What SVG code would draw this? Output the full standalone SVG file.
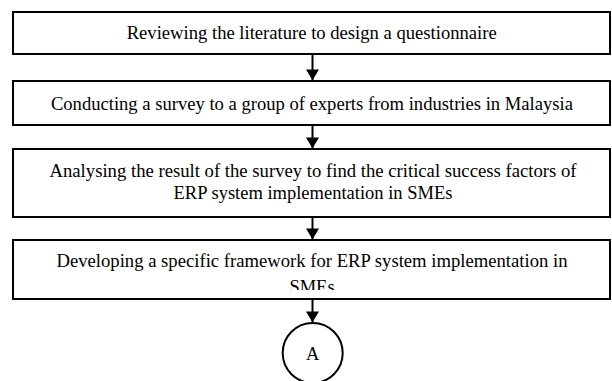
<svg xmlns="http://www.w3.org/2000/svg" width="612" height="381" viewBox="0 0 612 381">
<style>
.box{fill:#fff;stroke:#000;stroke-width:2}
.t{font-family:"Liberation Serif","Times New Roman",serif;font-size:18.5px;fill:#000;text-anchor:middle}
.c{stroke:#000;stroke-width:2;fill:none}
</style>
<defs>
<marker id="ah" markerWidth="5.5" markerHeight="6.6" refX="5.3" refY="3.3" orient="auto" markerUnits="strokeWidth">
<path d="M0,0 L5.5,3.3 L0,6.6 Z" fill="#000"/>
</marker>
<clipPath id="clip4"><rect x="13" y="240" width="597" height="50"/></clipPath>
</defs>
<rect width="612" height="381" fill="#fff"/>
<g id="connectors">
<line class="c" x1="312.5" y1="54" x2="312.5" y2="80" marker-end="url(#ah)"/>
<line class="c" x1="312.5" y1="125" x2="312.5" y2="148" marker-end="url(#ah)"/>
<line class="c" x1="312.5" y1="217" x2="312.5" y2="239" marker-end="url(#ah)"/>
<line class="c" x1="312.5" y1="299" x2="312.5" y2="322" marker-end="url(#ah)"/>
</g>
<g id="n1">
<rect class="box" x="13" y="12" width="597" height="42"/>
<text class="t" x="311.7" y="38.5" textLength="370" lengthAdjust="spacingAndGlyphs">Reviewing the literature to design a questionnaire</text>
</g>
<g id="n2">
<rect class="box" x="13" y="81" width="597" height="44"/>
<text class="t" x="311.9" y="109.5" textLength="522" lengthAdjust="spacingAndGlyphs">Conducting a survey to a group of experts from industries in Malaysia</text>
</g>
<g id="n3">
<rect class="box" x="13" y="149" width="597" height="68"/>
<text class="t" x="313" y="176.5" textLength="527" lengthAdjust="spacingAndGlyphs">Analysing the result of the survey to find the critical success factors of</text>
<text class="t" x="313" y="199">ERP system implementation in SMEs</text>
</g>
<g id="n4">
<rect class="box" x="13" y="240" width="597" height="59"/>
<g clip-path="url(#clip4)">
<text class="t" x="312" y="267" textLength="511" lengthAdjust="spacingAndGlyphs">Developing a specific framework for ERP system implementation in</text>
<text class="t" x="312" y="293">SMEs</text>
</g>
</g>
<g id="nA">
<circle cx="312.7" cy="353" r="30" fill="#fff" stroke="#000" stroke-width="2"/>
<text class="t" x="312.7" y="359.5">A</text>
</g>
</svg>
